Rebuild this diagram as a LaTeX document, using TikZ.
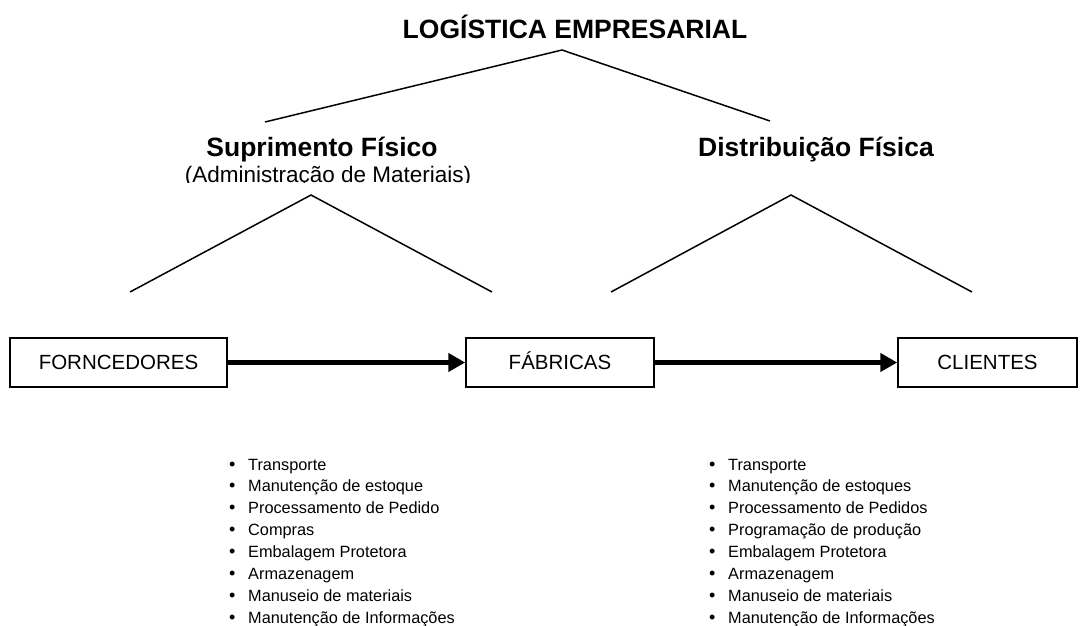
\documentclass[tikz,border=0pt]{standalone}
\usepackage{fontspec}
\setmainfont{Liberation Sans}
\usetikzlibrary{arrows.meta}
\begin{document}
\begin{tikzpicture}[x=1pt,y=-1pt,
  heading/.style={font=\fontsize{26.5}{30}\selectfont\bfseries, inner sep=0pt, anchor=base},
  sub/.style={font=\fontsize{22.5}{26}\selectfont, inner sep=0pt, anchor=base},
  stage/.style={draw, line width=1.5pt, minimum height=49pt, text height=14.5pt, text depth=0pt,
                inner sep=0pt, font=\fontsize{20.5}{22}\selectfont},
  branch/.style={line width=1.5pt},
  flow/.style={line width=5pt, -{Triangle[length=17pt,width=18pt]}},
  item/.style={font=\fontsize{16.3}{20}\selectfont, inner sep=0pt, anchor=base west},
  dot/.style={font=\fontsize{18}{20}\selectfont, inner sep=0pt, anchor=base west}
]
\useasboundingbox (0,0) rectangle (1085,626);

% headings
\node[heading] (title) at (575,39) {LOGÍSTICA EMPRESARIAL};
\node[heading] (sup) at (322,156.5) {Suprimento Físico};
\node[heading] (dist) at (816,156.5) {Distribuição Física};
\begin{scope}
  \clip (100,160) rectangle (560,182.5);
  \node[sub] (adm) at (328,182) {(Administração de Materiais)};
\end{scope}

% top branch
\coordinate (t0) at (562,50);
\coordinate (tl) at (265,122);
\coordinate (tr) at (770,121);
\draw[branch] (tl) -- (t0) -- (tr);

% left branch
\coordinate (s0) at (311,195);
\coordinate (sl) at (130,292);
\coordinate (sr) at (492,292);
\draw[branch] (sl) -- (s0) -- (sr);

% right branch
\coordinate (d0) at (791,195);
\coordinate (dl) at (611,292);
\coordinate (dr) at (972,292);
\draw[branch] (dl) -- (d0) -- (dr);

% stages
\node[stage, minimum width=217pt] (forn) at (118.5,362.5) {FORNCEDORES};
\node[stage, minimum width=188pt] (fab) at (560,362.5) {FÁBRICAS};
\node[stage, minimum width=179pt] (cli) at (987.5,362.5) {CLIENTES};
\draw[flow] (forn.east) -- (fab.west);
\draw[flow] (fab.east) -- (cli.west);

% left list
\foreach \t [count=\i] in {Transporte, Manutenção de estoque, Processamento de Pedido, Compras,
  Embalagem Protetora, Armazenagem, Manuseio de materiais, Manutenção de Informações}{
  \node[dot] (lb\i) at (229,{470+21.9*(\i-1)}) {•};
  \node[item] (li\i) at (248,{470+21.9*(\i-1)}) {\t};
}
% right list
\foreach \t [count=\i] in {Transporte, Manutenção de estoques, Processamento de Pedidos, Programação de produção,
  Embalagem Protetora, Armazenagem, Manuseio de materiais, Manutenção de Informações}{
  \node[dot] (rb\i) at (709,{470+21.9*(\i-1)}) {•};
  \node[item] (ri\i) at (728,{470+21.9*(\i-1)}) {\t};
}
\end{tikzpicture}
\end{document}
